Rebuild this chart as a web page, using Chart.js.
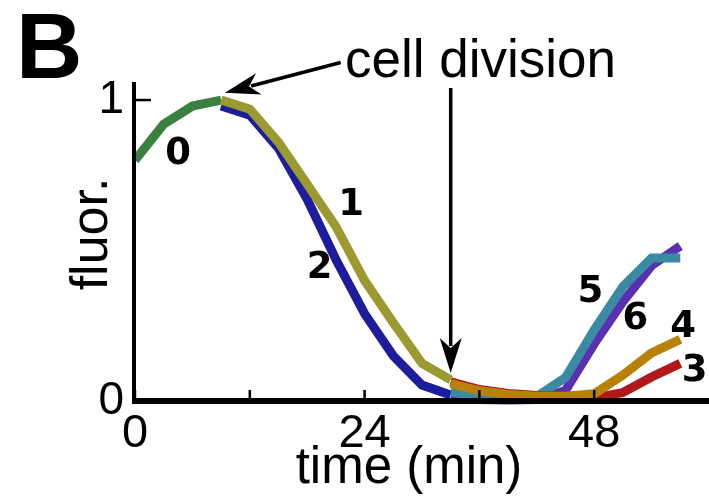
<!DOCTYPE html>
<html>
<head>
    <title>fluor. vs time</title>
    <script src="https://cdn.jsdelivr.net/npm/chart.js"></script>
    <style>
        body { margin: 0; background: #fff; }
        #wrap { width: 709px; height: 499px; }
    </style>
</head>
<body>
    <div id="wrap"><canvas id="fluorChart" width="709" height="499"></canvas></div>

    <script>
        // time points (min) for each stretch of the lineage
        const timeA = [0, 3, 6, 9];
        const timeB = [9, 12, 15, 18, 21, 24, 27, 30, 33];
        const timeC = [33, 36, 39, 42, 45, 48, 51, 54, 57];

        // normalised fluorescence of each cell
        const cell0 = [0.80, 0.92, 0.98, 1.00];
        const cell1 = [1.00, 0.97, 0.86, 0.72, 0.58, 0.40, 0.26, 0.125, 0.07];
        const cell2 = [0.98, 0.95, 0.84, 0.67, 0.47, 0.29, 0.15, 0.053, 0.02];
        const cell3 = [0.064, 0.038, 0.025, 0.018, 0.017, 0.01, 0.028, 0.08, 0.125];
        const cell4 = [0.058, 0.034, 0.022, 0.016, 0.016, 0.024, 0.086, 0.16, 0.205];
        const cell5 = [0.03, 0.015, 0.01, 0.015, 0.078, 0.236, 0.38, 0.475, 0.475];
        const cell6 = [0.012, 0.005, 0.003, 0.005, 0.035, 0.19, 0.33, 0.45, 0.515];

        const cellNames = ['0', '1', '2', '3', '4', '5', '6'];
        const cellColors = ['#3a8040', '#9a9a30', '#1c1c9c', '#b0181c', '#b8820a', '#3a8aa4', '#5a30b0'];
        // where the number of each cell is written (time, fluor.)
        const nameSpots = [[4.5, 0.82], [22.6, 0.65], [19.3, 0.44], [58.5, 0.10], [57.3, 0.245], [47.6, 0.36], [52.3, 0.27]];

        // axes
        const xTicks = [0, 12, 24, 36, 48];
        const xTickLabels = ['0', '', '24', '', '48'];
        const yTicks = [0, 1];
        const yTickLabels = ['0', '1'];
        const divisionTime = 33;

        function toPoints(ts, vs) {
            return ts.map((t, i) => ({ x: t, y: vs[i] }));
        }

        function makeSet(idx, ts, vs, order) {
            return {
                label: cellNames[idx],
                data: toPoints(ts, vs),
                borderColor: cellColors[idx],
                borderWidth: 9,
                borderCapStyle: 'butt',
                borderJoinStyle: 'miter',
                pointRadius: 0,
                tension: 0,
                fill: false,
                clip: false,
                order: order
            };
        }

        // arrowhead with a notched back
        function arrowHead(ctx, x, y, angle) {
            const len = 35, half = 11, notch = 25;
            ctx.save();
            ctx.translate(x, y);
            ctx.rotate(angle);
            ctx.beginPath();
            ctx.moveTo(0, 0);
            ctx.lineTo(-len, -half);
            ctx.lineTo(-notch, 0);
            ctx.lineTo(-len, half);
            ctx.closePath();
            ctx.fill();
            ctx.restore();
        }

        function arrow(ctx, x0, y0, x1, y1) {
            const a = Math.atan2(y1 - y0, x1 - x0);
            ctx.beginPath();
            ctx.moveTo(x0, y0);
            ctx.lineTo(x1 - Math.cos(a) * 27, y1 - Math.sin(a) * 27);
            ctx.stroke();
            arrowHead(ctx, x1, y1, a);
        }

        const decorPlugin = {
            id: 'decor',
            afterDatasetsDraw(chart) {
                const ctx = chart.ctx;
                const xs = chart.scales.x, ys = chart.scales.y;
                const area = chart.chartArea;
                const x0 = xs.getPixelForValue(0);
                const y0 = ys.getPixelForValue(0);
                ctx.save();
                ctx.fillStyle = '#000';
                ctx.strokeStyle = '#000';

                // spines
                ctx.lineWidth = 6;
                ctx.beginPath();
                ctx.moveTo(x0 - 2, y0);
                ctx.lineTo(area.right, y0);
                ctx.stroke();
                ctx.lineWidth = 4;
                ctx.beginPath();
                ctx.moveTo(x0 - 1, area.top);
                ctx.lineTo(x0 - 1, y0 + 3);
                ctx.stroke();

                // ticks pointing inwards
                ctx.lineWidth = 2.5;
                xTicks.forEach(t => {
                    const px = xs.getPixelForValue(t);
                    ctx.beginPath();
                    ctx.moveTo(px, y0);
                    ctx.lineTo(px, y0 - 11);
                    ctx.stroke();
                });
                yTicks.forEach(v => {
                    const py = ys.getPixelForValue(v);
                    ctx.beginPath();
                    ctx.moveTo(x0, py);
                    ctx.lineTo(x0 + 16, py);
                    ctx.stroke();
                });

                // tick labels
                ctx.font = '47px "Liberation Sans", Arial, sans-serif';
                ctx.textBaseline = 'alphabetic';
                ctx.textAlign = 'center';
                xTicks.forEach((t, i) => {
                    if (xTickLabels[i]) ctx.fillText(xTickLabels[i], xs.getPixelForValue(t), y0 + 46);
                });
                ctx.font = '46px "Liberation Sans", Arial, sans-serif';
                ctx.textAlign = 'right';
                yTicks.forEach((v, i) => {
                    ctx.fillText(yTickLabels[i], x0 - 11, ys.getPixelForValue(v) + 13);
                });

                // axis titles
                ctx.font = '51px "Liberation Sans", Arial, sans-serif';
                ctx.textAlign = 'center';
                ctx.fillText('time (min)', 409, 483);
                ctx.font = '52px "Liberation Sans", Arial, sans-serif';
                ctx.save();
                ctx.translate(107, 234);
                ctx.rotate(-Math.PI / 2);
                ctx.fillText('fluor.', 0, 0);
                ctx.restore();

                // panel letter
                ctx.font = '900 92px "Liberation Sans", Arial, sans-serif';
                ctx.textAlign = 'left';
                ctx.fillText('B', 16, 78);

                // cell numbers
                ctx.font = 'bold 37px "DejaVu Sans", sans-serif';
                ctx.textAlign = 'center';
                ctx.textBaseline = 'middle';
                nameSpots.forEach((p, i) => {
                    ctx.fillText(cellNames[i], xs.getPixelForValue(p[0]), ys.getPixelForValue(p[1]));
                });

                // cell division annotation
                ctx.font = '53px "Liberation Sans", Arial, sans-serif';
                ctx.textAlign = 'left';
                ctx.textBaseline = 'alphabetic';
                ctx.fillText('cell division', 345, 77);
                ctx.lineWidth = 3.5;
                const xd = xs.getPixelForValue(divisionTime);
                arrow(ctx, xd, ys.getPixelForValue(1.04), xd, ys.getPixelForValue(0.093));
                arrow(ctx, xs.getPixelForValue(21.5), ys.getPixelForValue(1.125),
                      xs.getPixelForValue(9.4), ys.getPixelForValue(1.024));

                ctx.restore();
            }
        };

        const ctx = document.getElementById('fluorChart').getContext('2d');
        const fluorChart = new Chart(ctx, {
            type: 'line',
            data: {
                datasets: [
                    makeSet(4, timeC, cell4, 0),
                    makeSet(3, timeC, cell3, 1),
                    makeSet(5, timeC, cell5, 2),
                    makeSet(6, timeC, cell6, 3),
                    makeSet(1, timeB, cell1, 4),
                    makeSet(2, timeB, cell2, 5),
                    makeSet(0, timeA, cell0, 6)
                ]
            },
            options: {
                responsive: false,
                animation: false,
                layout: { padding: { left: 135, right: 0, top: 82, bottom: 98 } },
                plugins: {
                    legend: { display: false },
                    tooltip: { enabled: false }
                },
                scales: {
                    x: { type: 'linear', min: 0, max: 60, display: false },
                    y: { type: 'linear', min: 0, max: 1.06, display: false }
                }
            },
            plugins: [decorPlugin]
        });
    </script>
</body>
</html>
